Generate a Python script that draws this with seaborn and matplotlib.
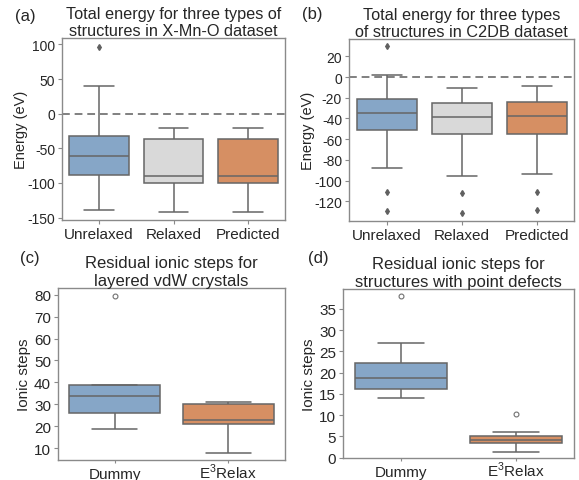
import matplotlib
matplotlib.use("Agg")
import matplotlib.pyplot as plt
import seaborn as sns
import pandas as pd

sns.set_style("white")
plt.rcParams['font.family'] = ['Liberation Sans', 'DejaVu Sans']
plt.rcParams['axes.unicode_minus'] = False
plt.rcParams['mathtext.fontset'] = 'custom'
plt.rcParams['mathtext.rm'] = 'Liberation Sans'

# ---------------- data ----------------
# box summaries: [whisker_low, Q1, median, Q3, whisker_high]
cats_top = ["Unrelaxed", "Relaxed", "Predicted"]
colors_top = ["#7ba6d2", "#d9d9d9", "#e98b50"]

a_summary = [[-139, -88.5, -61.5, -32.7, 40],
             [-142, -100.5, -90.4, -36.5, -21],
             [-142, -100.5, -90.4, -36.5, -21]]
a_out_low = [[], [], []]
a_out_high = [[96], [], []]

b_summary = [[-88.2, -51.5, -34.4, -21.3, 2],
             [-95.3, -55.0, -38.9, -24.7, -10.9],
             [-93.6, -54.7, -37.3, -24.1, -9.0]]
b_out_low = [[-129.7, -110.7], [-131.0, -111.7], [-128.4, -110.7]]
b_out_high = [[29.6], [], []]

cats_bot = ["Dummy", "E$^3$Relax"]
colors_bot = ["#7ba6d2", "#e98b50"]

c_summary = [[19, 26, 34, 39, 39],
             [8, 21, 23, 30, 31]]
c_out_low = [[], []]
c_out_high = [[79.5], []]

d_summary = [[14.1, 16.1, 18.7, 22.4, 27],
             [1.3, 3.4, 4.2, 5.1, 6.1]]
d_out_low = [[], []]
d_out_high = [[38], [10.2]]


def sample_from_summary(summary, out_low, out_high):
    """Build a sample whose box-plot statistics equal the read summary."""
    lo, q1, med, q3, hi = summary
    low_part = sorted(out_low) + [lo]
    high_part = [hi] + sorted(out_high)
    k = max(len(low_part), len(high_part))
    n = 4 * k + 1
    vals = list(low_part)
    vals += [q1] * (k + 1 - len(vals))          # up to index k
    vals += [q1] * (k - 1)                        # k+1 .. 2k-1
    vals += [med] * k                             # 2k .. 3k-1
    vals += [q3] * (n - len(high_part) - len(vals))
    vals += high_part
    return vals


def make_df(cats, summaries, lows, highs):
    rows = []
    for c, s, l, h in zip(cats, summaries, lows, highs):
        for v in sample_from_summary(s, l, h):
            rows.append({"cat": c, "val": v})
    return pd.DataFrame(rows)


W, H = 579, 481
fig = plt.figure(figsize=(W / 100, H / 100), dpi=100)


def add_ax(l, t, r, b):
    return fig.add_axes([l / W, 1 - b / H, (r - l) / W, (b - t) / H])


ax_a = add_ax(62, 39, 285, 221)
ax_b = add_ax(349, 40, 574, 222)
ax_c = add_ax(58, 289, 285, 461)
ax_d = add_ax(343, 290, 574, 459)

line_c = "#666666"
spine_c = "#8a8a8a"


def draw(ax, cats, colors, summ, lows, highs, flier_marker):
    df = make_df(cats, summ, lows, highs)
    if flier_marker == "d":
        fp = dict(marker="d", markerfacecolor="#606060", markeredgecolor="#606060",
                  markersize=3)
    else:
        fp = dict(marker="o", markerfacecolor="none", markeredgecolor="#707070",
                  markersize=3.5, markeredgewidth=0.8)
    sns.boxplot(data=df, x="cat", y="val", hue="cat", palette=colors,
                order=cats, hue_order=cats, legend=False, ax=ax, width=0.8,
                linecolor=line_c, linewidth=1.1, flierprops=fp, zorder=2)
    ax.set_xlabel("")
    for s in ax.spines.values():
        s.set_visible(True)
        s.set_color(spine_c)
        s.set_linewidth(1.0)
    ax.tick_params(axis="both", which="both", length=3, width=0.8, color=spine_c,
                   direction="out", bottom=True, left=True, pad=2)


draw(ax_a, cats_top, colors_top, a_summary, a_out_low, a_out_high, "d")
draw(ax_b, cats_top, colors_top, b_summary, b_out_low, b_out_high, "d")
draw(ax_c, cats_bot, colors_bot, c_summary, c_out_low, c_out_high, "o")
draw(ax_d, cats_bot, colors_bot, d_summary, d_out_low, d_out_high, "o")

for ax in (ax_a, ax_b):
    ax.axhline(0, ls=(0, (4, 2.5)), color="#808080", lw=1.4, zorder=1)

ax_a.set_ylim(-153.4, 109.2)
ax_a.set_yticks([100, 50, 0, -50, -100, -150])
ax_b.set_ylim(-139.0, 36.7)
ax_b.set_yticks([20, 0, -20, -40, -60, -80, -100, -120])
ax_c.set_ylim(4.7, 83.0)
ax_c.set_yticks([10, 20, 30, 40, 50, 60, 70, 80])
ax_d.set_ylim(-0.07, 39.7)
ax_d.set_yticks([0, 5, 10, 15, 20, 25, 30, 35])

for ax in (ax_a, ax_b):
    ax.set_ylabel("Energy (eV)", fontsize=10.5, labelpad=-0.5)
    ax.tick_params(axis="y", labelsize=10)
    ax.tick_params(axis="x", labelsize=11)
for ax in (ax_c, ax_d):
    ax.set_ylabel("Ionic steps", fontsize=11, labelpad=2)
    ax.tick_params(axis="y", labelsize=11)
    ax.tick_params(axis="x", labelsize=11, length=2.5, pad=10.5)
    for lbl in ax.get_xticklabels():
        lbl.set_verticalalignment("baseline")

ax_a.set_title("Total energy for three types of\nstructures in X-Mn-O dataset",
               fontsize=11.7, pad=1.5, linespacing=1.15)
ax_b.set_title("Total energy for three types\nof structures in C2DB dataset",
               fontsize=11.7, pad=1.5, linespacing=1.15)
ax_c.set_title("Residual ionic steps for\nlayered vdW crystals",
               fontsize=12, pad=1.5, linespacing=1.25)
ax_d.set_title("Residual ionic steps for\nstructures with point defects",
               fontsize=12, pad=1.5, linespacing=1.25)

for txt, x, y in [("(a)", 15, 17), ("(b)", 302, 15), ("(c)", 20, 258), ("(d)", 308, 258)]:
    fig.text(x / W, 1 - y / H, txt, fontsize=12, ha="left", va="center")

fig.savefig("out.png", dpi=100)
